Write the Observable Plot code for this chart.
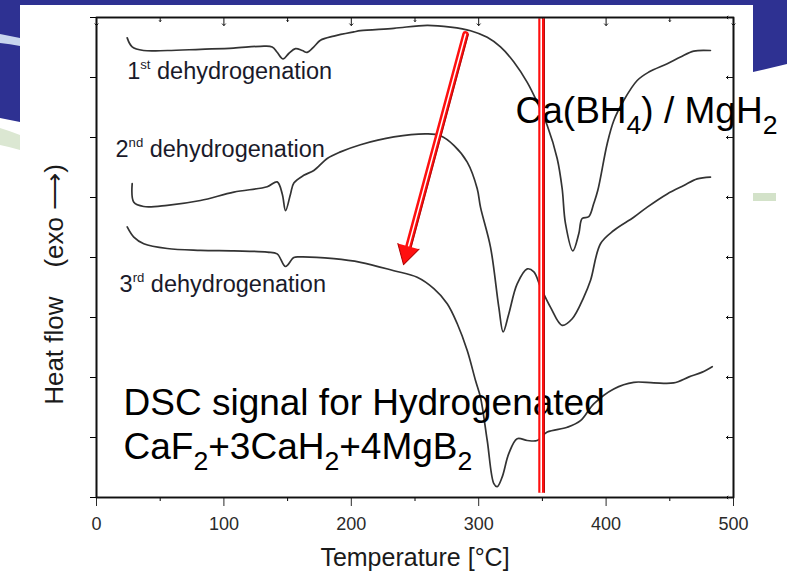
<!DOCTYPE html>
<html><head><meta charset="utf-8">
<script src="https://cdn.jsdelivr.net/npm/d3@7"></script>
<script src="https://cdn.jsdelivr.net/npm/@observablehq/plot@0.6"></script>
<style>
html,body{margin:0;padding:0;background:#fff;}
#wrap{position:relative;width:787px;height:571px;overflow:hidden;font-family:"Liberation Sans",Arial,sans-serif;}
#bg{position:absolute;left:0;top:0;}
#chart{position:absolute;left:0;top:0;width:787px;height:571px;}
</style></head><body>
<div id="wrap">
<svg id="bg" width="787" height="571">
 <rect width="787" height="571" fill="#fff"/>
 <rect x="0" y="0" width="787" height="5" fill="#2e3192"/>
 <path d="M0,0 H20 V122 Q10,120 0,118 Z" fill="#2e3192"/>
 <path d="M0,34 Q10,36 20,38 V46 Q10,44 0,43 Z" fill="#c9d6ee"/>
 <path d="M0,128 Q10,131 20,135 V150 Q10,147 0,145 Z" fill="#dbe7d2"/>
 <path d="M753,0 H787 V64 L753,72 Z" fill="#2e3192"/>
 <rect x="753" y="193" width="23" height="8" fill="#d3e2c9"/>
</svg>
<div id="chart"></div>
</div>
<script>
// 1st dehydrogenation
const temp1 = [24.1, 28.0, 36.9, 55.7, 81.6, 107.5, 128.7, 137.9, 141.8, 146.5, 150.9, 156.2, 161.5, 165.4, 170.6, 175.8, 186.3, 202.0, 207.2, 233.4, 259.6, 277.9, 293.6, 306.7, 317.1, 327.6, 338.1, 345.9, 353.8, 361.6, 365.5, 368.1, 373.9, 378.6, 381.2, 386.4, 390.3, 393.5, 400.9, 406.0, 413.9, 424.4, 433.5, 448.0, 458.4, 468.8, 481.9];
const flow1 = [7.66, 7.51, 7.45, 7.45, 7.47, 7.49, 7.52, 7.51, 7.42, 7.31, 7.40, 7.48, 7.45, 7.42, 7.51, 7.62, 7.69, 7.76, 7.78, 7.82, 7.87, 7.84, 7.78, 7.67, 7.51, 7.26, 6.92, 6.59, 6.20, 5.65, 5.15, 4.57, 4.11, 4.40, 4.65, 4.68, 4.90, 5.12, 5.90, 6.28, 6.62, 6.95, 7.09, 7.23, 7.34, 7.44, 7.45];
// 2nd dehydrogenation
const temp2 = [28.0, 29.3, 37.1, 55.5, 81.6, 107.8, 134.0, 141.8, 145.8, 148.4, 152.3, 154.9, 162.7, 170.6, 181.1, 191.5, 207.2, 233.4, 259.6, 270.0, 280.5, 291.0, 298.8, 301.4, 309.3, 315.8, 319.2, 323.6, 330.2, 338.1, 343.3, 348.5, 356.4, 365.5, 373.4, 382.5, 387.8, 395.6, 406.0, 421.7, 432.3, 448.0, 461.0, 471.5, 481.9];
const flow2 = [5.23, 4.92, 4.85, 4.87, 4.95, 5.09, 5.18, 5.26, 5.06, 4.78, 5.06, 5.24, 5.37, 5.45, 5.65, 5.76, 5.88, 6.01, 6.06, 6.03, 5.87, 5.59, 5.15, 4.84, 4.17, 3.17, 2.76, 3.06, 3.56, 3.81, 3.76, 3.51, 3.17, 2.87, 2.98, 3.34, 3.62, 4.23, 4.45, 4.67, 4.84, 5.06, 5.20, 5.31, 5.34];
// 3rd dehydrogenation
const temp3 = [24.1, 29.3, 37.1, 55.5, 81.6, 107.8, 134.0, 141.8, 148.4, 154.9, 160.1, 186.3, 207.2, 233.4, 251.7, 264.8, 275.3, 283.1, 291.0, 297.5, 301.4, 306.7, 311.9, 314.5, 318.4, 323.6, 330.2, 338.1, 345.9, 353.8, 369.5, 379.9, 390.3, 406.0, 421.7, 437.4, 453.1, 465.1, 475.5, 483.3];
const flow3 = [4.51, 4.34, 4.23, 4.15, 4.12, 4.11, 4.09, 4.06, 3.85, 4.00, 4.01, 3.98, 3.92, 3.78, 3.67, 3.48, 3.23, 2.90, 2.45, 1.95, 1.67, 0.95, 0.23, 0.18, 0.34, 0.73, 0.98, 0.95, 0.95, 1.09, 1.17, 1.28, 1.56, 1.81, 1.92, 1.91, 1.91, 2.01, 2.09, 2.18];

const xDomain = [0, 500];
const yDomain = [0, 8];
const xTicks = [0, 100, 200, 300, 400, 500];
const xMinorTicks = [50, 150, 250, 350, 450];
const yTicks = [0, 1, 2, 3, 4, 5, 6, 7, 8];

const runLabels = [
  {text: "1^{st} dehydrogenation", x: 24.1, y: 6.98},
  {text: "2^{nd} dehydrogenation", x: 14.9, y: 5.67},
  {text: "3^{rd} dehydrogenation", x: 18.1, y: 3.43}
];
const notes = [
  {text: "Ca(BH_{4}) / MgH_{2}", x: 328.9, y: 6.25},
  {text: "DSC signal for Hydrogenated", x: 21.2, y: 1.37},
  {text: "CaF_{2}+3CaH_{2}+4MgB_{2}", x: 21.2, y: 0.65}
];
const markerT = [{x: 349.3, y1: 0.07, y2: 7.98}];
const shiftArrow = [{x1: 289.6, y1: 7.72, x2: 241.0, y2: 3.88}];
const xLabel = "Temperature [°C]";
const yLabel = "Heat flow    (exo \u27F6)";

const rows = [];
[[temp1, flow1, "1st"], [temp2, flow2, "2nd"], [temp3, flow3, "3rd"]].forEach(([T, H, run]) => {
  T.forEach((t, i) => rows.push({run, T: t, H: H[i]}));
});
// frame outline through the corners of the scale domains
const frameCorners = [
  {x: xDomain[0], y: yDomain[0]}, {x: xDomain[1], y: yDomain[0]},
  {x: xDomain[1], y: yDomain[1]}, {x: xDomain[0], y: yDomain[1]},
  {x: xDomain[0], y: yDomain[0]}
];
const topMajor = xTicks.map(x => ({x, y: yDomain[1]}));
const topMinor = xMinorTicks.map(x => ({x, y: yDomain[1]}));
const rightTicks = yTicks.map(y => ({x: xDomain[1], y}));

const font = "Liberation Sans, Arial, sans-serif";
const chart = Plot.plot({
  width: 787, height: 571,
  marginLeft: 96, marginRight: 54, marginTop: 17, marginBottom: 74,
  style: {background: "transparent", fontFamily: font},
  x: {domain: xDomain, label: null},
  y: {domain: yDomain, label: null},
  marks: [
    Plot.axisX({ticks: xTicks, tickSize: 9, tickPadding: 11, fontSize: 18, color: "#2a2a2a", label: null}),
    Plot.axisX({ticks: xMinorTicks, tickSize: 4, tickFormat: () => "", label: null}),
    Plot.axisY({ticks: yTicks, tickSize: 6, tickFormat: () => "", label: null}),
    // inward ticks on top and right
    Plot.vector(topMajor, {x: "x", y: "y", length: 8, rotate: 180, anchor: "start", stroke: "#111", strokeWidth: 1}),
    Plot.vector(topMinor, {x: "x", y: "y", length: 4, rotate: 180, anchor: "start", stroke: "#111", strokeWidth: 1}),
    Plot.vector(rightTicks, {x: "x", y: "y", length: 7, rotate: -90, anchor: "start", stroke: "#111", strokeWidth: 1}),
    Plot.line(rows, {x: "T", y: "H", z: "run", stroke: "#333", strokeWidth: 1.7, curve: "catmull-rom"}),
    Plot.text(runLabels, {x: "x", y: "y", text: "text", textAnchor: "start", lineAnchor: "bottom", fontSize: 23.5, fill: "#1a1a2a"}),
    Plot.text(notes, {x: "x", y: "y", text: "text", textAnchor: "start", lineAnchor: "bottom", fontSize: 37, fill: "#000"}),
    Plot.text([xLabel], {frameAnchor: "bottom", dy: 68, lineAnchor: "bottom", fontSize: 25, fill: "#1a1a1a"}),
    Plot.text([yLabel], {frameAnchor: "left", rotate: -90, dx: -34, dy: 27, lineAnchor: "bottom", textAnchor: "middle", fontSize: 26, fill: "#1a1a1a"}),
    // red marker line (double line)
    Plot.ruleX(markerT, {x: "x", y1: "y1", y2: "y2", stroke: "#ff1010", strokeWidth: 6.5}),
    Plot.ruleX(markerT, {x: "x", y1: "y1", y2: "y2", stroke: "#ffffff", strokeWidth: 1.6, dx: -0.3}),
    Plot.ruleX(markerT, {x: "x", y1: "y1", y2: "y2", stroke: "#a00000", strokeWidth: 0.8, dx: 3}),
    // red arrow: shaft + filled head
    Plot.arrow(shiftArrow, {x1: "x1", y1: "y1", x2: "x2", y2: "y2", stroke: "#ff1010", strokeWidth: 6.5, headLength: 0, insetEnd: 14}),
    Plot.arrow(shiftArrow, {x1: "x1", y1: "y1", x2: "x2", y2: "y2", stroke: "#ffffff", strokeWidth: 1.5, headLength: 0, insetEnd: 14}),
    Plot.arrow(shiftArrow, {x1: "x1", y1: "y1", x2: "x2", y2: "y2", stroke: "#a00000", strokeWidth: 0.8, headLength: 0, insetEnd: 14, dx: 3}),
    Plot.vector(shiftArrow, {x: "x2", y: "y2", length: 19, rotate: 195, anchor: "end", shape: "spike", r: 11, fill: "#ff1010", stroke: "#b00000", strokeWidth: 1}),
    // plot frame
    Plot.line(frameCorners, {x: "x", y: "y", stroke: "#111", strokeWidth: 1.6, curve: "linear"}),
    Plot.frame({stroke: "#111", strokeWidth: 1.6})
  ]
});
document.getElementById("chart").appendChild(chart);

// rich text: ^{..} superscript, _{..} subscript
chart.querySelectorAll("text").forEach(t => {
  const s = t.textContent;
  if (!/[\^_]\{/.test(s)) return;
  const fs = parseFloat(getComputedStyle(t).fontSize);
  t.textContent = "";
  const parts = s.split(/(\^\{[^}]*\}|_\{[^}]*\})/).filter(p => p !== "");
  let shift = 0;
  for (const p of parts) {
    const ts = document.createElementNS("http://www.w3.org/2000/svg", "tspan");
    let target = 0, size = null, txt = p;
    if (p.startsWith("^{")) { target = -0.42 * fs; size = 0.56 * fs; txt = p.slice(2, -1); }
    else if (p.startsWith("_{")) { target = 0.3 * fs; size = 0.72 * fs; txt = p.slice(2, -1); }
    const dy = target - shift;
    if (dy) ts.setAttribute("dy", dy);
    if (size) ts.setAttribute("font-size", size);
    shift = target;
    ts.textContent = txt;
    t.appendChild(ts);
  }
});
</script>
</body></html>
